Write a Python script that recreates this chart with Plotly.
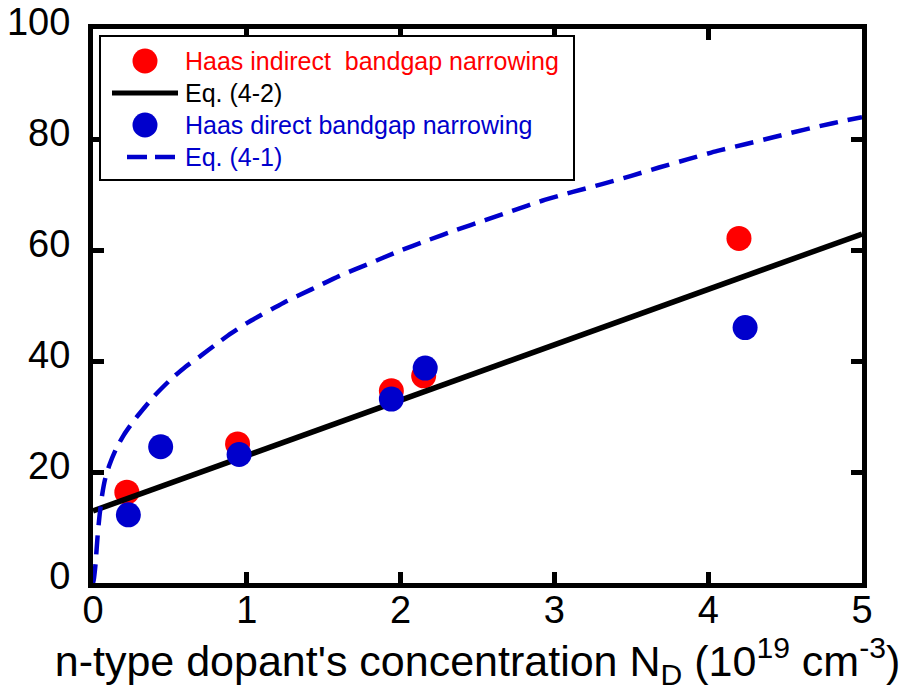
import plotly.graph_objects as go

# ---------------- data ----------------
indirect_x = [0.22, 0.94, 1.94, 2.15, 4.20]
indirect_y = [16.4, 25.1, 34.7, 37.4, 62.2]

direct_x = [0.23, 0.44, 0.95, 1.94, 2.16, 4.24]
direct_y = [12.3, 24.6, 23.2, 33.2, 38.8, 46.1]

eq42_x = [0.0, 5.0]
eq42_y = [13.0, 63.0]

eq41_x = [0.0, 0.005, 0.015, 0.03, 0.043, 0.06, 0.08, 0.108, 0.15, 0.2, 0.25,
          0.3, 0.4, 0.5, 0.6, 0.7, 0.8, 0.9, 1.0, 1.24, 1.42, 1.60, 1.80,
          1.98, 2.18, 2.36, 2.55, 2.74, 2.92, 3.12, 3.31, 3.50, 3.68, 3.87,
          4.06, 4.24, 4.43, 4.62, 4.81, 5.0]
eq41_y = [0.0, 0.6, 3.0, 8.5, 12.3, 16.0, 18.9, 21.4, 24.2, 26.7, 28.7,
          30.5, 33.8, 36.6, 39.0, 41.0, 43.1, 45.1, 46.9, 50.6, 53.0, 55.4, 57.7,
          59.8, 61.9, 63.7, 65.5, 67.3, 69.0, 70.6, 72.0, 73.5, 75.0, 76.5,
          78.0, 79.2, 80.5, 81.8, 83.0, 84.1]

x_ticks = [0, 1, 2, 3, 4, 5]
y_ticks = [0, 20, 40, 60, 80, 100]

legend_labels = ["Haas indirect\u00a0 bandgap narrowing", "Eq. (4-2)",
                 "Haas direct bandgap narrowing", "Eq. (4-1)"]

RED = "#ff0000"
BLUE = "#0000cc"
BLACK = "#000000"
FONT = "Liberation Sans, Arial, Helvetica, sans-serif"

W, H = 905, 698
L, R, T, B = 93, 43, 29, 115
PW, PH = W - L - R, H - T - B


def px(xp):
    return (xp - L) / PW


def py(yp):
    return (H - B - yp) / PH


fig = go.Figure()

fig.add_trace(go.Scatter(x=indirect_x, y=indirect_y, mode="markers",
                         marker=dict(size=25, color=RED, line=dict(width=0)),
                         name=legend_labels[0], showlegend=False))
fig.add_trace(go.Scatter(x=eq42_x, y=eq42_y, mode="lines",
                         line=dict(color=BLACK, width=5.5),
                         name=legend_labels[1], showlegend=False))
fig.add_trace(go.Scatter(x=eq41_x, y=eq41_y, mode="lines",
                         line=dict(color=BLUE, width=4.5, dash="19px,10px", shape="spline",
                                   smoothing=0.6),
                         name=legend_labels[3], showlegend=False))
fig.add_trace(go.Scatter(x=direct_x, y=direct_y, mode="markers",
                         marker=dict(size=25, color=BLUE, line=dict(width=0)),
                         name=legend_labels[2], showlegend=False))

# ---------------- manual legend ----------------
shapes = []
annotations = []
shapes.append(dict(type="rect", xref="paper", yref="paper",
                   x0=px(100), x1=px(574), y0=py(180), y1=py(36),
                   line=dict(color=BLACK, width=2), fillcolor="white", layer="above"))
rows = [61, 93, 125, 157]
text_colors = [RED, BLACK, BLUE, BLUE]
for r, c in [(rows[0], RED), (rows[2], BLUE)]:
    shapes.append(dict(type="circle", xref="paper", yref="paper",
                       x0=px(145 - 12.5), x1=px(145 + 12.5),
                       y0=py(r + 12.5), y1=py(r - 12.5),
                       fillcolor=c, line=dict(width=0), layer="above"))
shapes.append(dict(type="line", xref="paper", yref="paper",
                   x0=px(112), x1=px(178), y0=py(rows[1]), y1=py(rows[1]),
                   line=dict(color=BLACK, width=5), layer="above"))
shapes.append(dict(type="line", xref="paper", yref="paper",
                   x0=px(127), x1=px(175), y0=py(rows[3]), y1=py(rows[3]),
                   line=dict(color=BLUE, width=4.5, dash="20px,8px"), layer="above"))
for r, lab, c in zip(rows, legend_labels, text_colors):
    annotations.append(dict(xref="paper", yref="paper", x=px(183), y=py(r),
                            xanchor="left", yanchor="middle", text=lab,
                            showarrow=False,
                            font=dict(family=FONT, size=25, color=c)))

axis_common = dict(
    showline=True, linecolor=BLACK, linewidth=5, mirror="allticks",
    ticks="inside", ticklen=11, tickwidth=5, tickcolor=BLACK,
    showgrid=False, zeroline=False, automargin=False,
    tickfont=dict(family=FONT, size=38, color=BLACK),
)

fig.update_layout(
    width=W, height=H,
    margin=dict(l=L, r=R, t=T, b=B, pad=0, autoexpand=False),
    paper_bgcolor="white", plot_bgcolor="white",
    showlegend=False,
    xaxis=dict(range=[0, 5], tickvals=x_ticks, ticktext=[str(v) for v in x_ticks],
               ticklabelstandoff=-11,
               title=dict(text="n-type dopant's concentration N<sub>D</sub> (10<sup>19</sup> cm<sup>-3</sup>)",
                          font=dict(family=FONT, size=43, color=BLACK), standoff=0),
               **axis_common),
    yaxis=dict(range=[0, 100], tickvals=y_ticks, ticktext=[str(v) for v in y_ticks],
               ticklabelstandoff=10, ticklabelshift=-7,
               **axis_common),
    shapes=shapes,
    annotations=annotations,
)

fig.write_html("out.html")
